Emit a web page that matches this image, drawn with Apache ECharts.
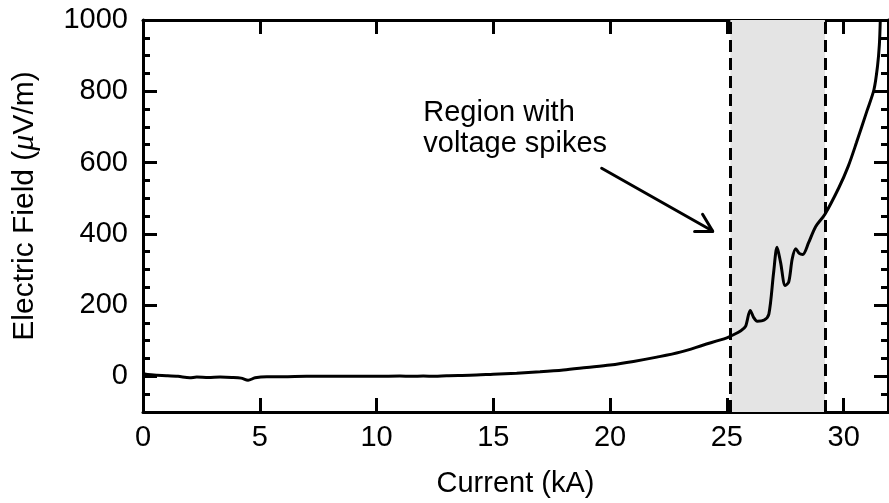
<!DOCTYPE html>
<html>
<head>
<meta charset="UTF-8">
<title>Electric Field vs Current</title>
<script type="text/javascript" src="https://cdn.jsdelivr.net/npm/echarts@6/dist/echarts.min.js"></script>
<style>
	body { margin: 0; background: #fff; }
	#chart { width: 889px; height: 503px; }
</style>
</head>
<body>
<div id="chart"></div>
<script>
	// measured trace, current in kA
	var currentKA = [0, 0.2, 0.6, 1, 1.5, 2, 2.3, 2.8, 3.3, 3.8, 4.2, 4.5, 4.8, 5.3, 6, 7, 8, 9, 10,
		11, 11.5, 12, 12.5, 13, 14, 15, 16, 17, 18, 19, 20, 21, 22, 23, 24, 25, 25.2, 25.6, 25.8,
		26.0, 26.15, 26.3, 26.6, 26.8, 27.0, 27.15, 27.3, 27.5, 27.65, 27.8, 27.95, 28.1, 28.25,
		28.5, 28.8, 29.2, 29.8, 30.2, 30.55, 31, 31.3, 31.45, 31.53, 31.57];
	// electric field in uV/m
	var fieldUV = [8, 5, 3, 2, 0, -4, -2, -3, -2, -3, -5, -11, -4, -1, -1, 0, 0, 0, 0,
		1, 0, 1, 0, 2, 3, 6, 9, 13, 18, 25, 32, 42, 54, 68, 88, 108, 114, 128, 140,
		185, 165, 155, 158, 175, 290, 362, 320, 255, 265, 330, 358, 345, 342,
		375, 420, 455, 530, 590, 656, 745, 805, 870, 930, 1000];

	var xTicks = [0, 5, 10, 15, 20, 25, 30];
	var yTicks = [0, 200, 400, 600, 800, 1000];
	var spikeRegion = [25.15, 29.2];
	// annotation arrow: shaft start, tip, and the two arms of the open head
	var arrowFrom = [19.64, 584];
	var arrowTip = [24.39, 408];
	var arrowArmA = [23.62, 408];
	var arrowArmB = [23.96, 455];
	var noteAt = [12, 782];
	var noteText = ['Region with', 'voltage spikes'];

	var FONT = 'Liberation Sans';
	var FS = 29;

	var pts = [];
	for (var i = 0; i < currentKA.length; i++) {
		pts.push([currentKA[i], fieldUV[i]]);
	}

	function xAx(pos, labels) {
		return {
			type: 'value', position: pos, min: 0, max: 31.9, interval: 5,
			axisLine: {show: true, onZero: false, lineStyle: {color: '#000', width: 3}},
			axisTick: {show: true, inside: true, length: 14, customValues: xTicks, lineStyle: {color: '#000', width: 3}},
			axisLabel: {show: labels, customValues: xTicks, color: '#000', fontSize: FS, fontFamily: FONT, margin: 11},
			splitLine: {show: false}
		};
	}

	function yAx(pos, major) {
		return {
			type: 'value', position: pos, min: -100, max: 1000, interval: 50,
			axisLine: {show: major, onZero: false, lineStyle: {color: '#000', width: 3}},
			axisTick: major
				? {show: true, inside: true, length: 14, customValues: yTicks, lineStyle: {color: '#000', width: 3}}
				: {show: true, inside: true, length: 7, lineStyle: {color: '#000', width: 3}},
			axisLabel: {show: false},
			splitLine: {show: false}
		};
	}

	var xBottom = xAx('bottom', true);
	xBottom.name = 'Current (kA)';
	xBottom.nameLocation = 'middle';
	xBottom.nameGap = 57;
	xBottom.nameTextStyle = {color: '#000', fontSize: FS, fontFamily: FONT};

	var yLeft = yAx('left', true);
	yLeft.axisLabel = {
		show: true, customValues: yTicks, color: '#000', fontSize: FS, fontFamily: FONT, margin: 15,
		formatter: function (v) { return String(v); }
	};
	yLeft.name = '{n|Electric Field (}{m|\u03bc}{n|V/m)}';
	yLeft.nameLocation = 'middle';
	yLeft.nameGap = 102;
	yLeft.nameTextStyle = {
		padding: [0, 0, 0, 20],
		rich: {
			n: {color: '#000', fontSize: 30, fontFamily: FONT},
			m: {color: '#000', fontSize: 32, fontFamily: 'Liberation Serif', fontStyle: 'italic'}
		}
	};

	var chart = echarts.init(document.getElementById('chart'));
	chart.setOption({
		animation: false,
		backgroundColor: '#fff',
		grid: {left: 143, right: 1, top: 20, bottom: 89, containLabel: false},
		xAxis: [xBottom, xAx('top', false)],
		yAxis: [yLeft, yAx('left', false), yAx('right', true), yAx('right', false)],
		series: [
			{
				// shaded region and its dashed bounds
				type: 'line', data: [], z: 1,
				markArea: {
					silent: true,
					itemStyle: {color: '#e4e4e4'},
					data: [[{xAxis: spikeRegion[0]}, {xAxis: spikeRegion[1]}]]
				},
				markLine: {
					silent: true,
					symbol: ['none', 'none'],
					label: {show: false},
					lineStyle: {color: '#000', width: 3, type: [12, 6]},
					data: [{xAxis: spikeRegion[0]}, {xAxis: spikeRegion[1]}]
				}
			},
			{
				// annotation arrow
				type: 'line', data: [], z: 2,
				markLine: {
					silent: true,
					symbol: ['none', 'none'],
					label: {show: false},
					lineStyle: {color: '#000', width: 3, type: 'solid', cap: 'round'},
					data: [
						[{coord: arrowFrom}, {coord: arrowTip}],
						[{coord: arrowArmA}, {coord: arrowTip}],
						[{coord: arrowArmB}, {coord: arrowTip}]
					]
				}
			},
			{
				type: 'line', data: pts, z: 3,
				showSymbol: false, smooth: 0.3,
				lineStyle: {color: '#000', width: 3}
			}
		]
	});

	var p = chart.convertToPixel({xAxisIndex: 0, yAxisIndex: 0}, noteAt);
	chart.setOption({
		graphic: [{
			type: 'text', x: p[0], y: p[1],
			style: {text: noteText.join('\n'), fill: '#000', fontSize: FS, fontFamily: FONT, lineHeight: 31, verticalAlign: 'top'}
		}]
	});
</script>
</body>
</html>
